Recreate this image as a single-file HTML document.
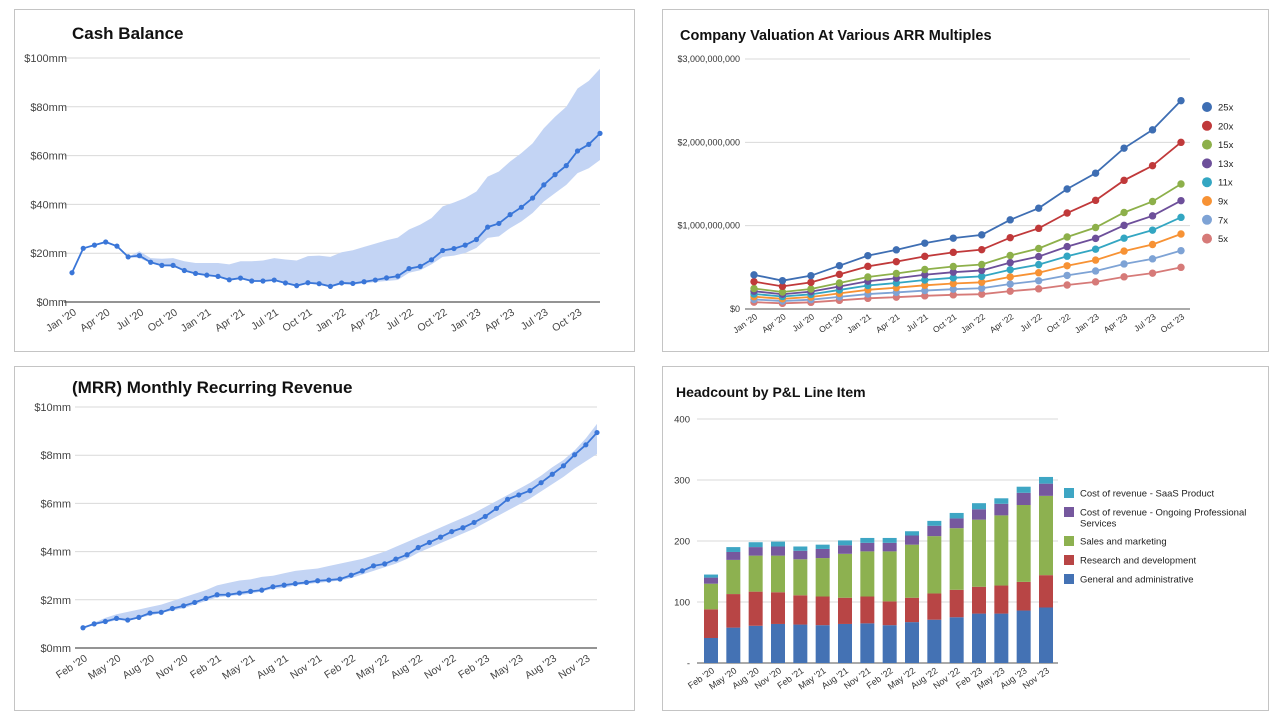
<!DOCTYPE html>
<html><head><meta charset="utf-8"><style>
html,body{margin:0;padding:0;background:#fff;width:1280px;height:722px;overflow:hidden}
svg{display:block;font-family:"Liberation Sans",Arial,sans-serif}
</style></head><body>
<svg id="s" width="1280" height="722" viewBox="0 0 1280 722">
<rect x="14.5" y="9.5" width="620" height="342" fill="#fff" stroke="#c4c4c4"/>
<rect x="662.5" y="9.5" width="606" height="342" fill="#fff" stroke="#c4c4c4"/>
<rect x="14.5" y="366.5" width="620" height="344" fill="#fff" stroke="#c4c4c4"/>
<rect x="662.5" y="366.5" width="606" height="344" fill="#fff" stroke="#c4c4c4"/>
<text x="72" y="39" font-size="17" font-weight="bold" fill="#111">Cash Balance</text>
<text x="680" y="40" font-size="14.5" font-weight="bold" fill="#111">Company Valuation At Various ARR Multiples</text>
<text x="72" y="393" font-size="17" font-weight="bold" fill="#111">(MRR) Monthly Recurring Revenue</text>
<text x="676" y="397" font-size="14" font-weight="bold" fill="#111">Headcount by P&amp;L Line Item</text>
</svg>
<script>
// ---- Cash balance data ($mm) ----
const cashValues=[12,22,23.3,24.6,22.9,18.5,19,16.3,15,15,12.9,11.7,11,10.5,9.1,9.8,8.6,8.6,9,7.8,6.7,7.9,7.5,6.4,7.8,7.6,8.3,9,9.9,10.6,13.7,14.6,17.3,21.1,21.9,23.3,25.6,30.7,32.2,35.8,38.8,42.6,48,52.2,55.9,61.9,64.6,69.1];
const cashUpper=[12,22,23.3,24.6,22.9,18.5,20.8,18,17.7,18,16.7,16,16,16,15.4,16.7,16.7,17,18,17.4,17,18.8,19,18.5,20.4,21.2,22.6,23.9,25.3,26.4,29.7,31.7,34.4,39.2,40.8,42.6,45.3,51.4,53.5,57.6,61,65,71.2,75.9,80,87.5,90.6,95.6];
const cashLower=[12,22,23.3,24.6,22.9,18.5,18,16,14.7,14.4,12.7,11.7,10.9,10.3,9,9.5,8.6,8.6,8.6,7.5,6.4,7.5,7.1,6.1,7.2,7.1,7.6,8.2,8.6,9,12,13,15.4,18.5,19,20.1,22.2,26.3,26.9,30.3,33,36.5,41.2,44.6,48,52.8,54.8,58.2];
const cashTicks=["$0mm","$20mm","$40mm","$60mm","$80mm","$100mm"];
const cashXLabels=["Jan '20","Apr '20","Jul '20","Oct '20","Jan '21","Apr '21","Jul '21","Oct '21","Jan '22","Apr '22","Jul '22","Oct '22","Jan '23","Apr '23","Jul '23","Oct '23"];
// ---- MRR data ($mm) ----
const mrrValues=[0.84,1.0,1.1,1.23,1.16,1.27,1.45,1.48,1.64,1.75,1.89,2.06,2.21,2.21,2.28,2.35,2.4,2.54,2.61,2.67,2.72,2.79,2.82,2.86,3.02,3.2,3.41,3.49,3.69,3.87,4.17,4.38,4.6,4.83,4.99,5.21,5.46,5.79,6.17,6.35,6.53,6.86,7.21,7.56,8.02,8.43,8.94];
const mrrUpper=[0.84,1.05,1.25,1.4,1.5,1.6,1.7,1.8,1.95,2.1,2.25,2.4,2.6,2.7,2.8,2.85,2.95,3.0,3.1,3.2,3.25,3.3,3.4,3.5,3.6,3.7,3.85,4.0,4.2,4.4,4.6,4.8,5.0,5.2,5.4,5.6,5.85,6.1,6.35,6.6,6.85,7.15,7.5,7.8,8.2,8.7,9.3];
const mrrLower=[0.84,0.95,1.05,1.15,1.15,1.25,1.35,1.45,1.55,1.65,1.8,1.95,2.1,2.15,2.2,2.25,2.35,2.45,2.5,2.6,2.65,2.7,2.75,2.8,2.9,3.05,3.2,3.35,3.5,3.7,3.95,4.15,4.35,4.55,4.75,4.95,5.2,5.45,5.7,5.95,6.2,6.5,6.8,7.1,7.45,7.75,8.05];
const mrrTicks=["$0mm","$2mm","$4mm","$6mm","$8mm","$10mm"];
const mrrXLabels=["Feb '20","May '20","Aug '20","Nov '20","Feb '21","May '21","Aug '21","Nov '21","Feb '22","May '22","Aug '22","Nov '22","Feb '23","May '23","Aug '23","Nov '23"];
// ---- Valuation data ----
const valQuarters=["Jan '20","Apr '20","Jul '20","Oct '20","Jan '21","Apr '21","Jul '21","Oct '21","Jan '22","Apr '22","Jul '22","Oct '22","Jan '23","Apr '23","Jul '23","Oct '23"];
const arrMillions=[16.4,13.6,16,20.8,25.6,28.4,31.6,34,35.6,42.8,48.4,57.6,65.2,77.2,86,100];
const multiples=[25,20,15,13,11,9,7,5];
const multipleLabels=["25x","20x","15x","13x","11x","9x","7x","5x"];
const multipleColors=["#3e6eb3","#c0393a","#8db04a","#6d4f9a","#33a6c2","#f79234","#7ea3d5","#d67a78"];
const valTicks=["$0","$1,000,000,000","$2,000,000,000","$3,000,000,000"];
// ---- Headcount data ----
const hcLabels=["Feb '20","May '20","Aug '20","Nov '20","Feb '21","May '21","Aug '21","Nov '21","Feb '22","May '22","Aug '22","Nov '22","Feb '23","May '23","Aug '23","Nov '23"];
const hcGA=[41,58,61,64,63,62,64,65,62,67,71,75,81,81,86,91];
const hcRD=[47,55,56,52,48,47,43,44,39,40,43,45,44,46,47,53];
const hcSM=[42,56,59,60,59,63,72,74,82,87,94,101,110,115,126,130];
const hcPS=[10,13,14,15,14,15,14,14,14,15,17,16,17,19,20,20];
const hcSaaS=[5,8,8,8,7,7,8,8,8,7,8,9,10,9,10,11];
const hcTicks=["-","100","200","300","400"];
const hcSeriesNames=["Cost of revenue - SaaS Product","Cost of revenue - Ongoing Professional|Services","Sales and marketing","Research and development","General and administrative"];

const NS="http://www.w3.org/2000/svg";
const svg=document.getElementById('s');
function mk(tag,attrs,txt){const e=document.createElementNS(NS,tag);for(const k in attrs)e.setAttribute(k,attrs[k]);if(txt!==undefined)e.textContent=txt;svg.appendChild(e);return e;}
function lin(d0,d1,r0,r1){return v=>r0+(v-d0)/(d1-d0)*(r1-r0);}

function bandChart(prefix,vals,up,lo,ticks,tmax,xl,x0,x1,y0,y1,labX){
  const n=vals.length;
  const X=lin(0,n-1,x0,x1), Y=lin(0,tmax,y0,y1);
  ticks.forEach((t,i)=>{
    const v=tmax*i/(ticks.length-1),y=Y(v);
    const g=mk('line',{x1:x0-8,x2:x1,y1:y,y2:y,stroke:i===0?'#555':'#d9d9d9','stroke-width':i===0?1.2:1});
    
    
    const t2=mk('text',{x:labX,y:y+4,'font-size':11,'text-anchor':'end',fill:'#444'},t);
    
    
  });
  let d='';
  for(let i=0;i<n;i++)d+=(i?'L':'M')+X(i)+','+Y(up[i]);
  for(let i=n-1;i>=0;i--)d+='L'+X(i)+','+Y(lo[i]);
  const band=mk('path',{d:d+'Z',fill:'#c3d4f4'});
  
  
  const pts=vals.map((v,i)=>X(i)+','+Y(v)).join(' ');
  const ln=mk('polyline',{points:pts,fill:'none',stroke:'#3a76d8','stroke-width':1.8});
  
  
  vals.forEach((v,i)=>{
    const c=mk('circle',{cx:X(i),cy:Y(v),r:2.6,fill:'#3a76d8'});
    
    
  });
  xl.forEach((l,k)=>{
    const x=X(k*3)+5,y=y0+12;
    const t=mk('text',{x:x,y:y,'font-size':10.5,'text-anchor':'end',fill:'#444',transform:`rotate(-33 ${x} ${y})`},l);
    
    
  });
}
bandChart('cash',cashValues,cashUpper,cashLower,cashTicks,100,cashXLabels,72,600,302,58,67);
bandChart('mrr',mrrValues,mrrUpper,mrrLower,mrrTicks,10,mrrXLabels,83,597,648,407,71);

// Valuation chart
(function(){
  const X=lin(0,valQuarters.length-1,754,1181), Y=lin(0,3000,309,59);
  valTicks.forEach((t,i)=>{
    const y=Y(i*1000);
    const g=mk('line',{x1:745,x2:1190,y1:y,y2:y,stroke:i===0?'#777':'#d9d9d9','stroke-width':i===0?1.2:1});
    
    
    const tt=mk('text',{x:740,y:y+3,'font-size':9,'text-anchor':'end',fill:'#333'},t);
    
    
  });
  for(let s=multiples.length-1;s>=0;s--){
    const vals=arrMillions.map(a=>a*multiples[s]);
    const pl=mk('polyline',{points:vals.map((v,i)=>X(i)+','+Y(v)).join(' '),fill:'none',stroke:multipleColors[s],'stroke-width':1.8});
    
    
    vals.forEach((v,i)=>{
      const c=mk('circle',{cx:X(i),cy:Y(v),r:3.7,fill:multipleColors[s]});
      
      
    });
  }
  valQuarters.forEach((q,i)=>{
    const x=X(i)+4,y=318;
    const t=mk('text',{x:x,y:y,'font-size':8.5,'text-anchor':'end',fill:'#333',transform:`rotate(-35 ${x} ${y})`},q);
    
    
  });
  multipleLabels.forEach((l,i)=>{
    const y=107+i*18.8;
    const c=mk('circle',{cx:1207,cy:y,r:5,fill:multipleColors[i]});
    
    
    const t=mk('text',{x:1218,y:y+3.5,'font-size':9.5,fill:'#222'},l);
    
    
  });
})();

// Headcount chart
(function(){
  const n=hcLabels.length;
  const X=lin(0,n-1,711,1046), Y=lin(0,400,663,419);
  hcTicks.forEach((t,i)=>{
    const y=Y(i*100);
    const g=mk('line',{x1:697,x2:1058,y1:y,y2:y,stroke:i===0?'#777':'#d9d9d9','stroke-width':i===0?1.2:1});
    
    
    const tt=mk('text',{x:690,y:y+3.5,'font-size':9.5,'text-anchor':'end',fill:'#333'},t);
    
    
  });
  const series=[hcGA,hcRD,hcSM,hcPS,hcSaaS];
  const cols=["#4472b4","#b84545","#8db150","#76589e","#3ea6c4"];
  const names=["ga","rd","sm","ps","saas"];
  for(let i=0;i<n;i++){
    let base=0;
    series.forEach((arr,s)=>{
      const top=base+arr[i];
      const r=mk('rect',{x:X(i)-7,y:Y(top),width:14,height:Y(base)-Y(top),fill:cols[s]});
      
      
      base=top;
    });
    const x=X(i)+4,y=672;
    const t=mk('text',{x:x,y:y,'font-size':9,'text-anchor':'end',fill:'#333',transform:`rotate(-35 ${x} ${y})`},hcLabels[i]);
    
    
  }
  const lcols=["#3ea6c4","#76589e","#8db150","#b84545","#4472b4"];
  const ly=[493,512,541,560,579];
  hcSeriesNames.forEach((nm,i)=>{
    const sq=mk('rect',{x:1064,y:ly[i]-5,width:10,height:10,fill:lcols[i]});
    
    
    nm.split('|').forEach((part,k)=>{
      const t=mk('text',{x:1080,y:ly[i]+3.5+k*11,'font-size':9.5,fill:'#222'},part);
      
      
    });
  });
})();
</script>
</body></html>
